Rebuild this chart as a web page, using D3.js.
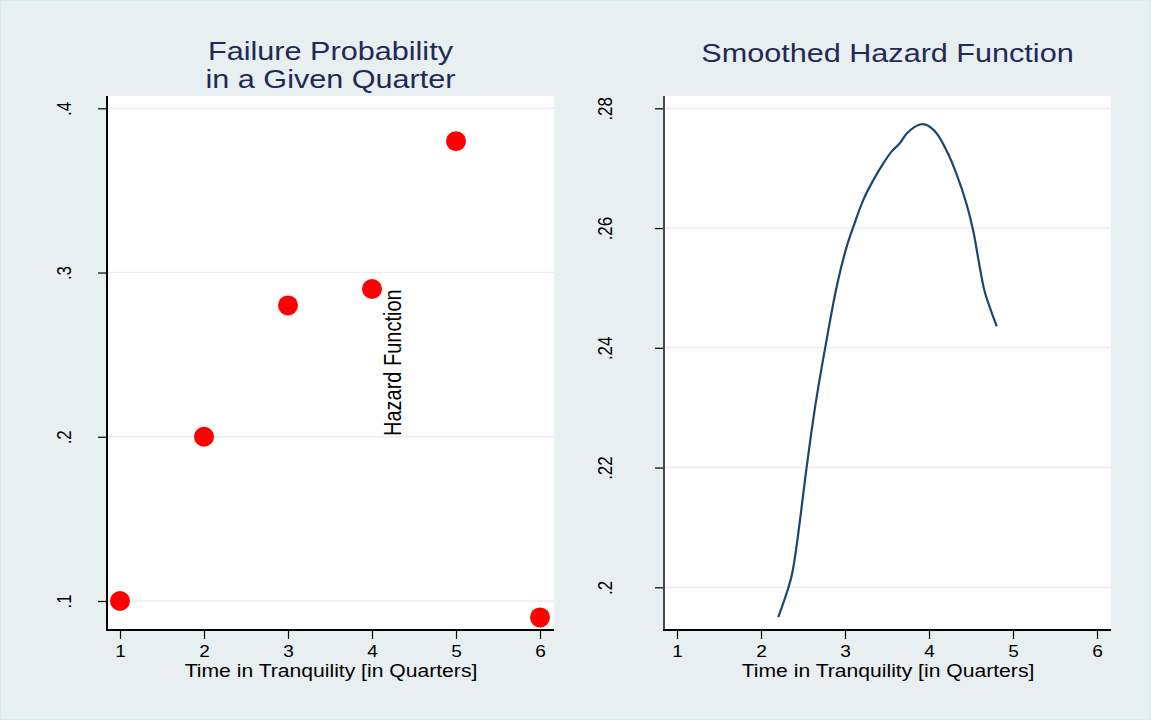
<!DOCTYPE html>
<html>
<head>
<meta charset="utf-8">
<script src="https://cdn.jsdelivr.net/npm/d3@7"></script>
<style>
  html, body { margin: 0; padding: 0; background: #e8eff1; }
  svg { display: block; }
  text { font-family: "Liberation Sans", Arial, sans-serif; }
</style>
</head>
<body>
<svg id="chart" width="1151" height="720"></svg>
<script>
// ---- data ----
const quarters = [1, 2, 3, 4, 5, 6];
const failureProb = [0.10, 0.20, 0.28, 0.29, 0.38, 0.09];
const hazardTime = [2.206, 2.354, 2.405, 2.544, 2.604, 2.663, 2.782, 2.901, 3.020, 3.099, 3.218, 3.337, 3.456, 3.556, 3.655, 3.735, 3.893, 3.973, 4.092, 4.207, 4.326, 4.445, 4.524, 4.604, 4.663, 4.806];
const hazardValue = [0.1950, 0.2013, 0.2051, 0.2201, 0.2263, 0.2318, 0.2414, 0.2502, 0.2569, 0.2602, 0.2647, 0.2680, 0.2708, 0.2728, 0.2742, 0.2758, 0.2773, 0.2772, 0.2758, 0.2730, 0.2691, 0.2641, 0.2597, 0.2535, 0.2494, 0.2436];
const xTicks = [1, 2, 3, 4, 5, 6];
const yTicksLeft = [0.1, 0.2, 0.3, 0.4];
const yTicksRight = [0.2, 0.22, 0.24, 0.26, 0.28];
const titleLeft = ["Failure Probability", "in a Given Quarter"];
const titleRight = ["Smoothed Hazard Function"];
const xAxisTitle = "Time in Tranquility [in Quarters]";
const strayLabel = "Hazard Function";

// ---- layout ----
const SX = 1.155; // horizontal glyph stretch seen in the reference
const svg = d3.select("#chart");
svg.append("rect").attr("x", 0).attr("y", 0).attr("width", 1151).attr("height", 720)
  .attr("fill", "#e8eff1").attr("stroke", "#dde6e9").attr("stroke-width", 2);

const fmt = d => d.toString().replace(/^0/, "");

function panel(cfg) {
  const { x0, x1, y0, y1, x, y, yTicks, title, axisColor, yLabelOffset } = cfg;
  const g = svg.append("g");
  g.append("rect").attr("x", x0).attr("y", y0).attr("width", x1 - x0).attr("height", y1 - y0)
    .attr("fill", "#ffffff");
  // gridlines
  g.selectAll(".grid").data(yTicks).join("line")
    .attr("x1", x0).attr("x2", x1)
    .attr("y1", d => y(d)).attr("y2", d => y(d))
    .attr("stroke", "#e7eef1").attr("stroke-width", 1.5);

  // y axis
  const ya = g.append("g").attr("transform", `translate(${x0},0)`)
    .call(d3.axisLeft(y).tickValues(yTicks).tickSize(9).tickFormat(fmt));
  ya.select(".domain").remove();
  ya.selectAll(".tick line").attr("stroke", "#000").attr("stroke-width", 1.2);
  ya.selectAll(".tick text")
    .attr("x", null).attr("dy", null)
    .attr("transform", `translate(${yLabelOffset},0) scale(${SX},1) rotate(-90)`)
    .attr("text-anchor", "middle")
    .attr("fill", "#000").style("font-size", "17px")
    .style("font-family", '"Liberation Sans", Arial, sans-serif');
  g.append("line").attr("x1", x0).attr("x2", x0).attr("y1", y0).attr("y2", y1)
    .attr("stroke", axisColor).attr("stroke-width", 2);

  // x axis
  const xa = g.append("g").attr("transform", `translate(0,${y1})`)
    .call(d3.axisBottom(x).tickValues(xTicks).tickSize(9).tickFormat(d3.format("d")));
  xa.select(".domain").remove();
  xa.selectAll(".tick line").attr("stroke", "#000").attr("stroke-width", 1.2);
  xa.selectAll(".tick text")
    .attr("y", 27).attr("dy", null)
    .attr("transform", `scale(${SX},1)`)
    .attr("fill", "#000").style("font-size", "16.5px")
    .style("font-family", '"Liberation Sans", Arial, sans-serif');
  g.append("line").attr("x1", x0 - 1).attr("x2", x1).attr("y1", y1).attr("y2", y1)
    .attr("stroke", "#000").attr("stroke-width", 2);

  const cx = (x0 + x1) / 2;
  // axis title
  g.append("text")
    .attr("transform", `translate(${cx + 0.5},677) scale(${SX},1)`)
    .attr("text-anchor", "middle").attr("fill", "#000")
    .style("font-size", "18.3px").text(xAxisTitle);

  // title lines
  const n = title.length;
  const fs = n > 1 ? 25 : 26.5;
  const sxT = 26.5 * SX / fs;
  const step = 28;
  const base = n > 1 ? 60 : 62;
  title.forEach((t, i) => {
    g.append("text")
      .attr("transform", `translate(${cx},${base + i * step}) scale(${sxT},1)`)
      .attr("text-anchor", "middle").attr("fill", "#1e2b55")
      .style("font-size", fs + "px").text(t);
  });
  return g;
}

// left panel
const xL = d3.scaleLinear().domain([1, 6]).range([120, 540]);
const yL = d3.scaleLinear().domain([0.1, 0.4]).range([601, 108.3]);
const gL = panel({ x0: 107, x1: 554, y0: 96, y1: 630, x: xL, y: yL, yTicks: yTicksLeft,
  title: titleLeft, axisColor: "#000", yLabelOffset: -36 });

gL.selectAll(".pt").data(quarters.map((q, i) => ({ q, p: failureProb[i] })))
  .join("circle")
  .attr("cx", d => xL(d.q)).attr("cy", d => yL(d.p)).attr("r", 10)
  .attr("fill", "#ff0000");

gL.append("text")
  .attr("transform", `translate(401,436) scale(${SX},1) rotate(-90)`)
  .attr("text-anchor", "start").attr("fill", "#000")
  .style("font-size", "20px").text(strayLabel);

// right panel
const xR = d3.scaleLinear().domain([1, 6]).range([677, 1097]);
const yR = d3.scaleLinear().domain([0.2, 0.28]).range([587.3, 108.3]);
const gR = panel({ x0: 664, x1: 1111, y0: 96, y1: 630, x: xR, y: yR, yTicks: yTicksRight,
  title: titleRight, axisColor: "#4a4a4a", yLabelOffset: -52 });

const lineGen = d3.line()
  .x((d, i) => xR(hazardTime[i]))
  .y((d, i) => yR(hazardValue[i]))
  .curve(d3.curveCatmullRom.alpha(0.5));
gR.append("path").datum(hazardValue)
  .attr("d", lineGen)
  .attr("fill", "none").attr("stroke", "#1a476f").attr("stroke-width", 2.2);
</script>
</body>
</html>
